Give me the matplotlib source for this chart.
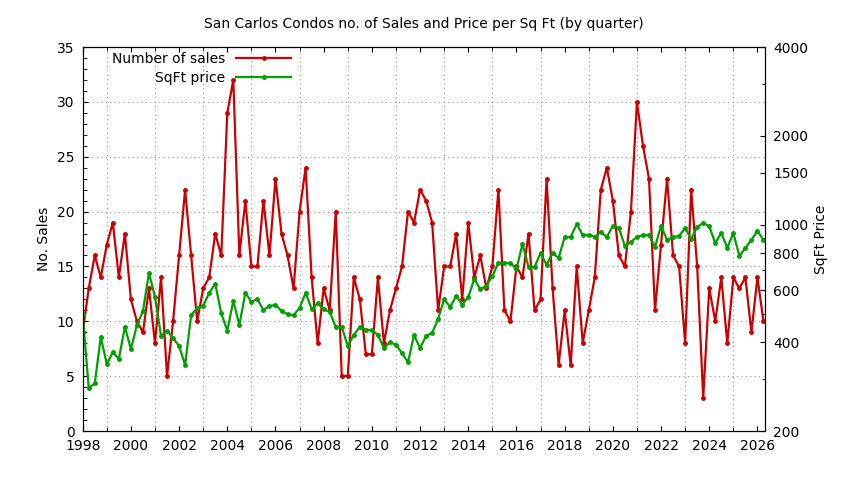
import matplotlib

matplotlib.use("Agg")
import matplotlib.pyplot as plt
import numpy as np
from matplotlib.ticker import FixedLocator, NullFormatter

# quarterly values starting 1998 Q1
sales = [9, 13, 16, 14, 17, 19, 14, 18, 12, 10, 9, 13, 8, 14, 5, 10, 16, 22, 16, 10,
         13, 14, 18, 16, 29, 32, 16, 21, 15, 15, 21, 16, 23, 18, 16, 13, 20, 24, 14, 8, 13,
         11, 20, 5, 5, 14, 12, 7, 7, 14, 8, 11, 13, 15, 20, 19, 22, 21, 19, 11, 15, 15,
         18, 12, 19, 14, 16, 13, 15, 22, 11, 10, 15, 14, 18, 11, 12, 23, 13,
         6, 11, 6, 15, 8, 11, 14, 22, 24, 21, 16, 15, 20, 30, 26, 23, 11, 17, 23, 16,
         15, 8, 22, 15, 3, 13, 10, 14, 8, 14, 13, 14, 9, 14, 10]
sqft_price = [494, 280, 290, 416, 337, 370, 351, 451, 379, 457, 510, 687, 569, 420, 437,
              413, 388, 335, 494, 522, 531, 588, 630, 502, 437, 552, 457, 588, 548, 560,
              514, 531, 535, 510, 498, 494, 522, 588, 518, 541, 518,
              506, 451, 451, 388, 423, 451, 440, 440, 423, 382, 400, 392, 367, 342, 423,
              382, 420, 430, 480, 560, 526, 574, 535, 569, 655, 605, 621, 670, 742, 742,
              742, 708, 861, 719, 719, 802, 731, 802,
              771, 909, 909, 1006, 923, 923, 909, 946, 909, 991, 975, 847, 875, 909, 923,
              923, 841, 991, 888, 909, 916, 975, 893, 984, 1014, 987, 867, 938, 834, 938,
              784, 834, 888, 953, 888]
years = 1998 + np.arange(len(sales)) / 4
price_ticks = [200, 400, 600, 800, 1000, 1500, 2000, 4000]
price_minor = [300, 500, 700, 900, 3000]

RED, GREEN = "#cc0000", "#00a000"
FS = 10

fig = plt.figure(figsize=(8.44, 4.8), dpi=100)
ax = fig.add_axes([0.098, 0.102, 0.808, 0.8])
ax2 = ax.twinx()

l1, = ax.plot(years, sales, "-o", color=RED, lw=1.6, ms=2.5)
l2, = ax2.plot(years, sqft_price, "-o", color=GREEN, lw=1.6, ms=2.5)

ax.set_xlim(1998, 2026.3)
ax.set_ylim(0, 35)
ax.set_xticks(np.arange(1998, 2027, 2))
ax.set_xticks(np.arange(1998, 2027, 1), minor=True)
ax.set_yticks(np.arange(0, 36, 5))
ax.set_yticks(np.arange(0, 36, 1), minor=True)
ax.grid(True, which="major", axis="y", ls=(0, (1, 3)), color="#999999", lw=0.8)
ax.grid(True, which="minor", axis="x", ls=(0, (1, 3)), color="#999999", lw=0.8)
ax.tick_params(which="both", direction="in", top=True, labelsize=FS, pad=6)
ax.tick_params(which="minor", length=3)
ax.set_ylabel("No. Sales", fontsize=FS)

ax2.set_yscale("log")
ax2.set_ylim(200, 4000)
ax2.yaxis.set_major_locator(FixedLocator(price_ticks))
ax2.set_yticklabels([str(t) for t in price_ticks])
ax2.yaxis.set_minor_locator(FixedLocator(price_minor))
ax2.yaxis.set_minor_formatter(NullFormatter())
ax2.tick_params(which="both", direction="in", labelsize=FS, pad=6)
ax2.set_ylabel("SqFt Price", fontsize=FS)

ax.set_title("San Carlos Condos no. of Sales and Price per Sq Ft (by quarter)", fontsize=FS, pad=14)
ax.legend([l1, l2], ["Number of sales", "SqFt price"], loc="upper left",
          bbox_to_anchor=(0.03, 1.01), frameon=False, markerfirst=False,
          fontsize=FS, handlelength=4, borderaxespad=0.2, labelspacing=0.4)

fig.savefig("out.png", dpi=100)
